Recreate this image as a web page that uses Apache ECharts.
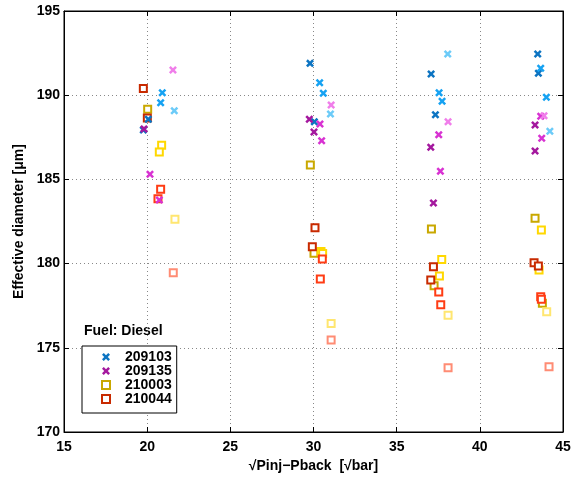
<!DOCTYPE html>
<html>
<head>
<meta charset="utf-8">
<script src="https://cdn.jsdelivr.net/npm/echarts@6/dist/echarts.min.js"></script>
<style>html,body{margin:0;padding:0;background:#fff}#c{width:574px;height:482px}</style>
</head>
<body>
<div id="c"></div>
<script>
// Legend / fuel names
const fuels = ['209103', '209135', '210003', '210044'];
// x: sqrt(Pinj - Pback), y: effective diameter [µm]
const blueDark = [[19.77,187.93],[20.07,188.57],[29.79,191.89],[30.05,188.43],[37.07,191.26],[37.33,188.84],[43.48,192.45],[43.52,191.3]];
const blueMid = [[20.91,190.15],[20.81,189.55],[30.37,190.74],[30.59,190.11],[37.55,190.15],[37.73,189.64],[43.66,191.6],[44.0,189.88]];
const blueLight = [[21.63,189.08],[31.02,188.88],[38.07,192.45],[44.21,187.86]];
const magDark = [[19.81,188.0],[29.75,188.57],[30.03,187.81],[37.05,186.91],[37.21,183.6],[43.32,188.23],[43.32,186.69]];
const magMid = [[20.17,185.3],[20.73,183.78],[30.39,188.29],[30.49,187.3],[37.53,187.65],[37.63,185.48],[43.66,188.75],[43.72,187.44]];
const magLight = [[21.55,191.5],[31.06,189.42],[38.09,188.43],[43.86,188.78]];
const oliveSq = [[20.03,189.16],[29.81,185.86],[30.03,180.61],[37.09,182.05],[37.25,178.69],[43.32,182.69],[43.76,177.64]];
const yellowSq = [[20.87,187.03],[20.73,186.63],[30.45,180.72],[30.55,180.6],[37.71,180.25],[37.57,179.26],[43.70,182.0],[43.56,179.62]];
const lightYellowSq = [[21.67,182.63],[31.06,176.45],[38.09,176.93],[44.02,177.14]];
const darkRedSq = [[19.77,190.4],[20.01,188.65],[29.93,181.0],[30.09,182.13],[37.05,179.03],[37.21,179.82],[43.26,180.05],[43.52,179.86]];
const redSq = [[20.81,184.41],[20.65,183.85],[30.53,180.27],[30.41,179.09],[37.53,178.31],[37.65,177.56],[43.66,178.03],[43.70,177.88]];
const salmonSq = [[21.57,179.46],[31.06,175.46],[38.09,173.82],[44.16,173.88]];

const X_PATH = 'path://M0,2.2 L2.2,0 L5,2.8 L7.8,0 L10,2.2 L7.2,5 L10,7.8 L7.8,10 L5,7.2 L2.2,10 L0,7.8 L2.8,5 Z';
const SQ_PATH = 'path://M0,0 L10,0 L10,10 L0,10 Z';
const FONT = '"Liberation Sans", Arial, Helvetica, sans-serif';

function sq(name, data, color) {
  return { type: 'scatter', name, data, symbol: SQ_PATH, symbolSize: 7,
    itemStyle: { color: '#fff', borderColor: color, borderWidth: 2, opacity: 1 } };
}
function cross(name, data, color) {
  return { type: 'scatter', name, data, symbol: X_PATH, symbolSize: 8,
    itemStyle: { color: color, opacity: 1 } };
}

const chart = echarts.init(document.getElementById('c'), null, { renderer: 'canvas' });
const axisCommon = {
  axisLine: { show: true, onZero: false, lineStyle: { color: '#000', width: 1 } },
  axisTick: { show: true, inside: true, length: 5, lineStyle: { color: '#000' } },
};
chart.setOption({
  animation: false,
  backgroundColor: '#fff',
  grid: { left: 64, right: 11, top: 11, bottom: 50, show: true, borderColor: '#000', borderWidth: 1 },
  xAxis: [{
    type: 'value', min: 15, max: 45, interval: 5,
    name: '\u221APinj\u2212Pback  [\u221Abar]', nameLocation: 'middle', nameGap: 25,
    nameTextStyle: { fontFamily: FONT, fontWeight: 'bold', fontSize: 14, color: '#000', verticalAlign: 'top' },
    axisLabel: { margin: 8, fontFamily: FONT, fontWeight: 'bold', fontSize: 14, color: '#000' },
    splitLine: { show: true, lineStyle: { color: '#888', type: [1, 3], width: 1 } },
    ...axisCommon
  }, {
    type: 'value', min: 15, max: 45, interval: 5, position: 'top',
    axisLabel: { show: false }, splitLine: { show: false }, ...axisCommon
  }],
  yAxis: [{
    type: 'value', min: 170, max: 195, interval: 5,
    name: 'Effective diameter [\u03BCm]', nameLocation: 'middle', nameGap: 38,
    nameTextStyle: { fontFamily: FONT, fontWeight: 'bold', fontSize: 14, color: '#000' },
    axisLabel: { margin: 4, fontFamily: FONT, fontWeight: 'bold', fontSize: 14, color: '#000' },
    splitLine: { show: true, lineStyle: { color: '#888', type: [1, 3], width: 1 } },
    ...axisCommon
  }, {
    type: 'value', min: 170, max: 195, interval: 5, position: 'right',
    axisLabel: { show: false }, splitLine: { show: false }, ...axisCommon
  }],
  legend: {
    data: fuels, orient: 'vertical', left: 82, top: 346,
    padding: [4, 5, 7, 19], itemGap: 0, itemWidth: 28, itemHeight: 8,
    backgroundColor: '#fff', borderColor: '#000', borderWidth: 1,
    textStyle: { fontFamily: FONT, fontWeight: 'bold', fontSize: 14, lineHeight: 14, color: '#000' }
  },
  graphic: [{
    type: 'text', left: 84, top: 324,
    style: { text: 'Fuel: Diesel', fontFamily: FONT, fontWeight: 'bold', fontSize: 14, fill: '#000' }
  }],
  series: [
    sq(fuels[2], oliveSq, '#c9a800'),
    sq(fuels[2] + ' b', yellowSq, '#ffd800'),
    sq(fuels[2] + ' c', lightYellowSq, '#ffe670'),
    sq(fuels[3], darkRedSq, '#c82a00'),
    sq(fuels[3] + ' b', redSq, '#ff3c14'),
    sq(fuels[3] + ' c', salmonSq, '#ff8c74'),
    cross(fuels[0], blueDark, '#0c74c2'),
    cross(fuels[0] + ' b', blueMid, '#16a2f2'),
    cross(fuels[0] + ' c', blueLight, '#6ccbf8'),
    cross(fuels[1], magDark, '#a4189e'),
    cross(fuels[1] + ' b', magMid, '#d832d2'),
    cross(fuels[1] + ' c', magLight, '#f07eea')
  ]
});
</script>
</body>
</html>
